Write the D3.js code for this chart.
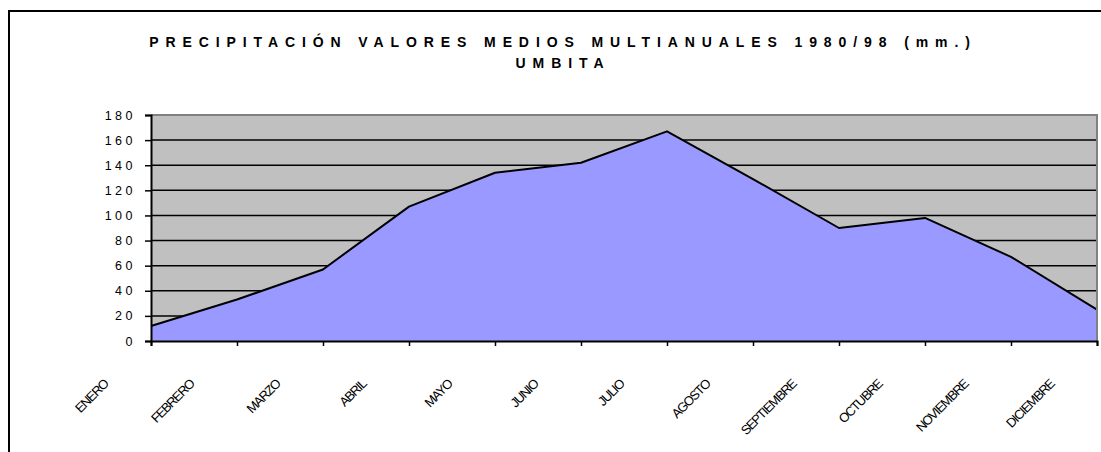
<!DOCTYPE html>
<html lang="es">
    <head>
       <meta charset="utf-8">
       <script src="https://cdn.jsdelivr.net/npm/d3@7/dist/d3.min.js"></script>
       <style>
           body { margin: 0; background: #fff; }
           text { font-family: Arial, "Liberation Sans", sans-serif; }
       </style>
    </head>
    <body>

        <script>
            var width  = 1101;
            var height = 452;

            // data
            var meses = ["ENERO", "FEBRERO", "MARZO", "ABRIL", "MAYO", "JUNIO",
                         "JULIO", "AGOSTO", "SEPTIEMBRE", "OCTUBRE", "NOVIEMBRE", "DICIEMBRE"];
            var precip = [12, 33, 57, 107, 134, 142, 167, 129, 90, 98, 67, 25];
            var yTicks = [0, 20, 40, 60, 80, 100, 120, 140, 160, 180];
            var titulo = ["PRECIPITACIÓN VALORES MEDIOS MULTIANUALES 1980/98 (mm.)", "UMBITA"];

            // plot area
            var pLeft = 151, pRight = 1097, pTop = 115, pBottom = 341;

            var svg = d3.select("body")
                        .append("svg")
                        .attr("width", width)
                        .attr("height", height);

            // chart frame (right and bottom sides fall outside the picture)
            svg.append("rect")
               .attr("x", 9).attr("y", 11)
               .attr("width", 1110).attr("height", 460)
               .attr("fill", "#fff")
               .attr("stroke", "#000")
               .attr("stroke-width", 2);

            var x = d3.scalePoint().domain(meses).range([pLeft, pRight]);
            var y = d3.scaleLinear().domain([0, 180]).range([pBottom, pTop]);

            // grey plot background
            svg.append("rect")
               .attr("x", pLeft).attr("y", pTop)
               .attr("width", pRight - pLeft).attr("height", pBottom - pTop)
               .attr("fill", "#c0c0c0");

            // gridlines
            svg.append("g")
               .selectAll("line")
               .data(yTicks.filter(function(d) { return d > 0 && d < 180; }))
               .enter().append("line")
               .attr("x1", pLeft).attr("x2", pRight)
               .attr("y1", function(d) { return y(d); })
               .attr("y2", function(d) { return y(d); })
               .attr("stroke", "#000")
               .attr("stroke-width", 1.5);

            // area
            var area = d3.area()
                         .x(function(d, i) { return x(meses[i]); })
                         .y0(y(0))
                         .y1(function(d) { return y(d); });

            var line = d3.line()
                         .x(function(d, i) { return x(meses[i]); })
                         .y(function(d) { return y(d); });

            svg.append("path")
               .datum(precip)
               .attr("d", area)
               .attr("fill", "#9999ff");

            svg.append("path")
               .datum(precip)
               .attr("d", line)
               .attr("fill", "none")
               .attr("stroke", "#000")
               .attr("stroke-width", 2)
               .attr("stroke-linejoin", "round");

            // plot border (grey top and right)
            svg.append("path")
               .attr("d", "M" + pLeft + "," + pTop + "H" + pRight + "V" + pBottom)
               .attr("fill", "none")
               .attr("stroke", "#808080")
               .attr("stroke-width", 2);

            // y axis
            var yAxis = svg.append("g")
               .attr("transform", "translate(" + pLeft + ",0)")
               .call(d3.axisLeft(y).tickValues(yTicks).tickSize(6).tickPadding(9));
            yAxis.select(".domain").attr("stroke", "#000").attr("stroke-width", 2);
            yAxis.selectAll(".tick line").attr("stroke", "#000").attr("stroke-width", 1.5);
            yAxis.selectAll("text")
                 .attr("font-size", 12.5)
                 .attr("fill", "#000")
                 .style("font-family", "Arial, 'Liberation Sans', sans-serif")
                 .style("letter-spacing", "3.5px");

            // x axis
            var xAxis = svg.append("g")
               .attr("transform", "translate(0," + pBottom + ")")
               .call(d3.axisBottom(x).tickSize(5).tickFormat(""));
            xAxis.select(".domain").attr("stroke", "#000").attr("stroke-width", 2);
            xAxis.selectAll(".tick line").attr("stroke", "#000").attr("stroke-width", 1.5);

            // slanted month labels, ending to the left of each tick
            svg.append("g")
               .selectAll("text")
               .data(meses)
               .enter().append("text")
               .attr("transform", function(d) {
                   return "translate(" + (x(d) - 42) + ",385) rotate(-45)";
               })
               .attr("text-anchor", "end")
               .attr("font-size", 13)
               .style("letter-spacing", "-1.2px")
               .attr("fill", "#000")
               .text(function(d) { return d; });

            // title
            svg.append("g")
               .selectAll("text")
               .data(titulo)
               .enter().append("text")
               .attr("x", 563)
               .attr("y", function(d, i) { return 47 + i * 21; })
               .attr("text-anchor", "middle")
               .attr("font-size", 14)
               .attr("font-weight", "bold")
               .style("letter-spacing", "6.9px")
               .attr("fill", "#000")
               .text(function(d) { return d; });
        </script>

    </body>
</html>
